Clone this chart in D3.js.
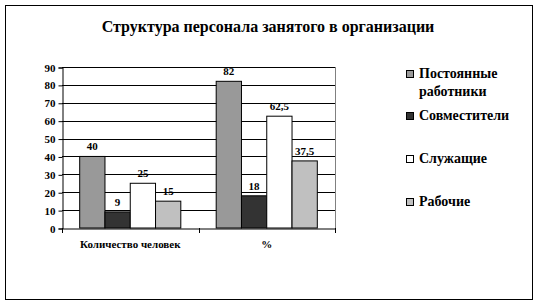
<!DOCTYPE html>
<html>
<head>
<meta charset="utf-8">
<script src="https://cdn.jsdelivr.net/npm/d3@7"></script>
<style>
  body { margin: 0; background: #fff; }
</style>
</head>
<body>
<div id="chart"></div>
<script>
const categories = ["Количество человек", "%"];
const seriesNames = ["Постоянные работники", "Совместители", "Служащие", "Рабочие"];
const seriesColors = ["#999999", "#333333", "#ffffff", "#c0c0c0"];
const values = [
  [40, 9, 25, 15],
  [82, 18, 62.5, 37.5]
];
const valueLabels = [
  ["40", "9", "25", "15"],
  ["82", "18", "62,5", "37,5"]
];
const yTicks = [0, 10, 20, 30, 40, 50, 60, 70, 80, 90];

const FONT = "'Liberation Serif', 'Times New Roman', 'DejaVu Serif', serif";
const width = 539, height = 306;
const plot = {left: 62, right: 335, top: 67, bottom: 228};

const svg = d3.select("#chart").append("svg")
    .attr("width", width)
    .attr("height", height)
    .style("font-family", FONT)
    .style("font-weight", "bold");

// outer frame
svg.append("rect")
    .attr("x", 5.5).attr("y", 5.5)
    .attr("width", 527).attr("height", 294)
    .attr("fill", "#fff").attr("stroke", "#000");

svg.append("text")
    .attr("x", 268).attr("y", 32)
    .attr("text-anchor", "middle")
    .style("font-family", FONT)
    .style("font-size", "16px")
    .text("Структура персонала занятого в организации");

const x0 = d3.scaleBand().domain(categories).range([plot.left, plot.right]);
const x1 = d3.scaleBand().domain(seriesNames).range([0, x0.bandwidth()]).paddingOuter(0.7);
const y = d3.scaleLinear().domain([0, 90]).range([plot.bottom, plot.top]);

// gridlines
svg.append("g").selectAll("line")
    .data(yTicks.filter(d => d > 0))
  .enter().append("line")
    .attr("x1", plot.left).attr("x2", plot.right)
    .attr("y1", d => Math.round(y(d)) + 0.5).attr("y2", d => Math.round(y(d)) + 0.5)
    .attr("stroke", "#000");

// plot area right border
svg.append("line")
    .attr("x1", plot.right + 0.5).attr("x2", plot.right + 0.5)
    .attr("y1", plot.top).attr("y2", plot.bottom)
    .attr("stroke", "#808080");

// y axis
const yAxis = svg.append("g")
    .attr("transform", `translate(${plot.left + 0.5},0.5)`)
    .call(d3.axisLeft(y).tickValues(yTicks).tickSize(4).tickPadding(3));
yAxis.attr("font-family", null);
yAxis.select(".domain").attr("stroke", "#000");
yAxis.selectAll("text").style("font-size", "11px").style("font-family", FONT);

// x axis
const xAxis = svg.append("g")
    .attr("transform", `translate(0,${plot.bottom + 0.5})`)
    .call(d3.axisBottom(x0).tickSize(0).tickPadding(12));
xAxis.attr("font-family", null);
xAxis.select(".domain").attr("stroke", "#000");
xAxis.selectAll("text").style("font-size", "11px").style("font-family", FONT);
svg.append("g").selectAll("line")
    .data([plot.left, x0(categories[1]), plot.right])
  .enter().append("line")
    .attr("x1", d => Math.round(d) + 0.5).attr("x2", d => Math.round(d) + 0.5)
    .attr("y1", plot.bottom).attr("y2", plot.bottom + 5)
    .attr("stroke", "#000");

// bars
const groups = svg.append("g").selectAll("g")
    .data(categories)
  .enter().append("g")
    .attr("transform", d => `translate(${x0(d)},0)`);

groups.selectAll("rect")
    .data((d, i) => values[i].map((v, j) => ({v, j})))
  .enter().append("rect")
    .attr("x", d => x1(seriesNames[d.j]))
    .attr("y", d => y(d.v))
    .attr("width", x1.bandwidth())
    .attr("height", d => y(0) - y(d.v))
    .attr("fill", d => seriesColors[d.j])
    .attr("stroke", "#000");

groups.selectAll("text")
    .data((d, i) => values[i].map((v, j) => ({v, j, label: valueLabels[i][j]})))
  .enter().append("text")
    .attr("x", d => x1(seriesNames[d.j]) + x1.bandwidth() / 2)
    .attr("y", d => y(d.v) - 6)
    .attr("text-anchor", "middle")
    .style("font-size", "11px")
    .text(d => d.label);

// legend
const legendRows = [
  {lines: ["Постоянные", "работники"], y: 78},
  {lines: ["Совместители"], y: 120},
  {lines: ["Служащие"], y: 163},
  {lines: ["Рабочие"], y: 206}
];
const legend = svg.append("g");
legendRows.forEach((r, i) => {
  legend.append("rect")
      .attr("x", 406.5).attr("y", r.y - 7.5)
      .attr("width", 7).attr("height", 7)
      .attr("fill", seriesColors[i]).attr("stroke", "#000");
  const t = legend.append("text")
      .attr("x", 419).attr("y", r.y)
      .style("font-size", "14px");
  r.lines.forEach((l, k) => {
    t.append("tspan").attr("x", 419).attr("dy", k ? 18 : 0).text(l);
  });
});
</script>
</body>
</html>
